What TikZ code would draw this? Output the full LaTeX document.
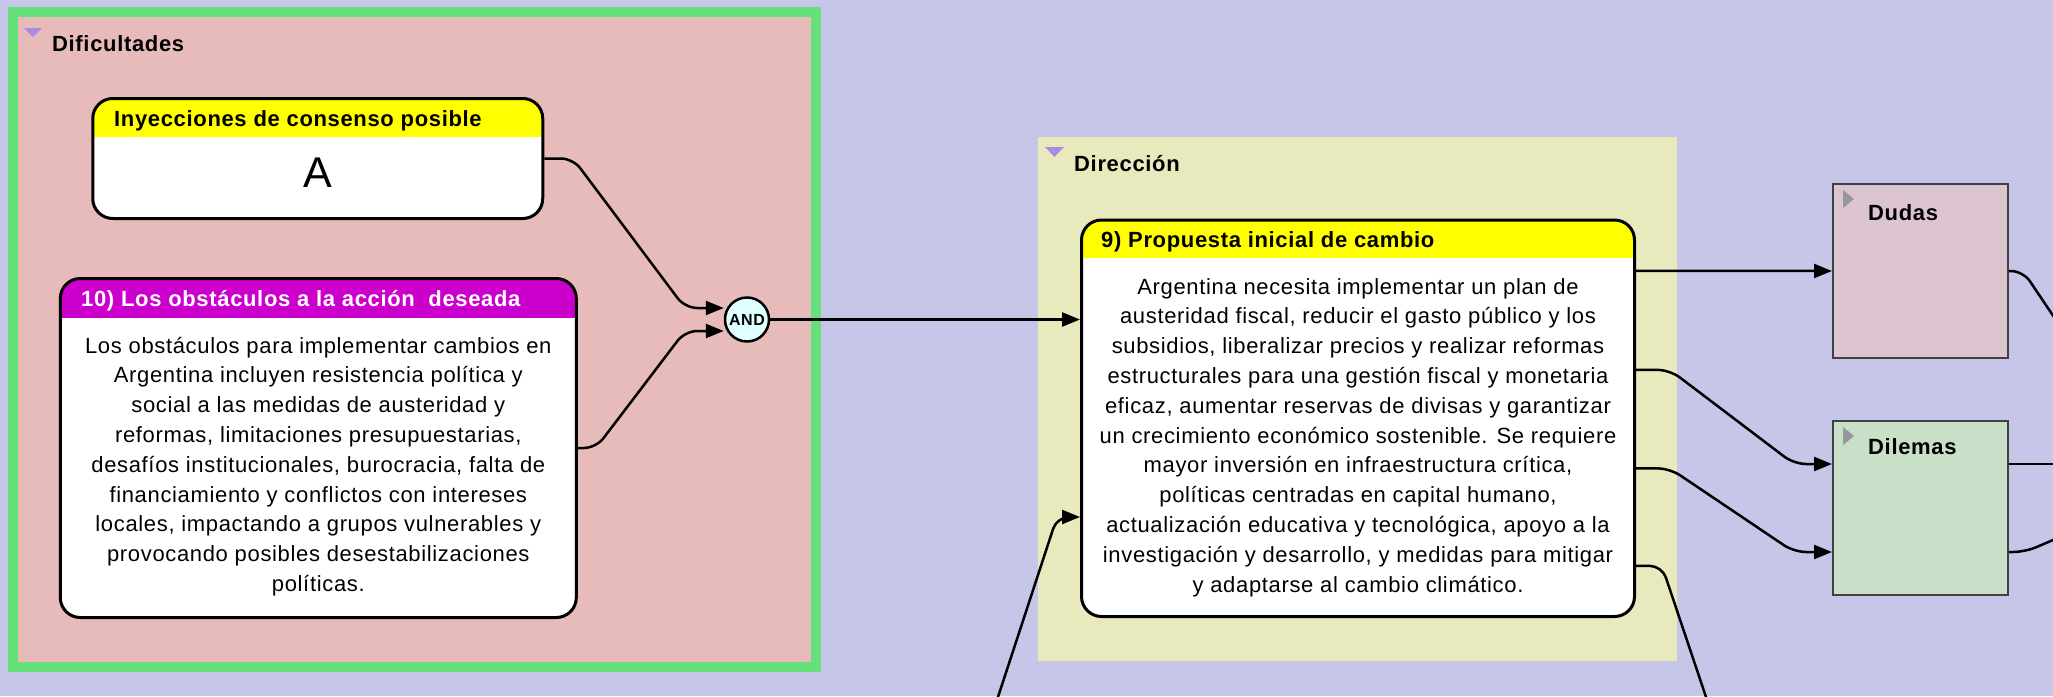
\documentclass[tikz,border=0pt]{standalone}
\usepackage{fontspec}
\setmainfont{Liberation Sans}[LetterSpace=3]
\usetikzlibrary{arrows.meta}
\definecolor{bg}{RGB}{198,198,232}
\definecolor{grnb}{RGB}{102,224,122}
\definecolor{pinkf}{RGB}{232,187,187}
\definecolor{dirf}{RGB}{233,233,190}
\definecolor{hdry}{RGB}{255,255,0}
\definecolor{hdrm}{RGB}{204,0,204}
\definecolor{dudf}{RGB}{220,196,208}
\definecolor{dilf}{RGB}{200,224,200}
\definecolor{trip}{RGB}{170,140,220}
\definecolor{trig}{RGB}{150,150,160}
\definecolor{andf}{RGB}{224,255,255}
\definecolor{bordg}{RGB}{64,64,64}
\newcommand{\hdrfont}{\fontsize{22}{26}\selectfont\bfseries}
\newcommand{\bodyfont}{\fontsize{22}{29.8}\selectfont}
\newcommand{\grpfont}{\fontsize{22}{26}\selectfont\bfseries}
\begin{document}
\begin{tikzpicture}[x=1pt,y=-1pt,
  card/.style={draw=black, line width=3pt, rounded corners=20pt, fill=white, inner sep=0pt},
  hdr/.style 2 args={path picture={\fill[#1, sharp corners] ([yshift=2pt]path picture bounding box.north west) rectangle ([yshift=-#2]path picture bounding box.north east);}},
  grp/.style={inner sep=0pt},
  sub/.style={draw=bordg, line width=2pt, inner sep=0pt, minimum width=175pt, minimum height=174pt},
  conn/.style={line width=2.5pt, draw=black, rounded corners=12pt},
  arr/.style={conn, -{Triangle[length=18pt,width=14pt]}},
  htext/.style={anchor=base west, font=\hdrfont, inner sep=0pt},
  btext/.style={anchor=base, align=center, font=\bodyfont, inner sep=0pt},
  glabel/.style={anchor=base west, font=\grpfont, inner sep=0pt}]
\useasboundingbox (0,0) rectangle (2053,696);
\fill[bg] (0,0) rectangle (2053,696);

% groups
\node[grp, draw=grnb, line width=10pt, fill=pinkf, minimum width=803pt, minimum height=655pt] (dif) at (414.5,339.5) {};
\node[grp, fill=dirf, minimum width=639pt, minimum height=524pt] (dir) at (1357.5,399) {};
\fill[trip] (24,28) -- (42,28) -- (33,37) -- cycle;
\fill[trip] (1045,147) -- (1064,147) -- (1054.5,157) -- cycle;
\node[glabel] (difl) at (52,51.5) {Dificultades};
\node[glabel] (dirl) at (1074,171.5) {Dirección};

% cards
\node[card, hdr={hdry}{38.5pt}, minimum width=450pt, minimum height=120pt] (inv) at (317.75,158.5) {};
\node[htext] (invh) at (114,126) {Inyecciones de consenso posible};
\node[inner sep=0pt, font=\fontsize{43}{43}\selectfont] (inva) at (317.5,172.5) {A};

\node[card, hdr={hdrm}{39.5pt}, minimum width=516pt, minimum height=339pt] (obs) at (318.3,448) {};
\node[htext, text=white] (obsh) at (81,306) {10) Los obstáculos a la acción\ \ deseada};
\node[btext] (obsb) at (318.3,591.5) {Los obstáculos para implementar cambios en\\
Argentina incluyen resistencia política y\\
social a las medidas de austeridad y\\
reformas, limitaciones presupuestarias,\\
desafíos institucionales, burocracia, falta de\\
financiamiento y conflictos con intereses\\
locales, impactando a grupos vulnerables y\\
provocando posibles desestabilizaciones\\
políticas.};

\node[card, hdr={hdry}{38pt}, minimum width=553pt, minimum height=396.5pt] (prop) at (1358,418.25) {};
\node[htext] (proph) at (1101,247) {9) Propuesta inicial de cambio};
\node[btext] (propb) at (1358,592) {Argentina necesita implementar un plan de\\
austeridad fiscal, reducir el gasto público y los\\
subsidios, liberalizar precios y realizar reformas\\
estructurales para una gestión fiscal y monetaria\\
eficaz, aumentar reservas de divisas y garantizar\\
un crecimiento económico sostenible. Se requiere\\
mayor inversión en infraestructura crítica,\\
políticas centradas en capital humano,\\
actualización educativa y tecnológica, apoyo a la\\
investigación y desarrollo, y medidas para mitigar\\
y adaptarse al cambio climático.};

% AND
\node[circle, draw=black, line width=2.5pt, fill=andf, minimum size=44pt, inner sep=0pt, font=\fontsize{16}{16}\selectfont\bfseries] (and) at (747,319.5) {AND};

% sub groups
\node[sub, fill=dudf] (dud) at (1920.5,271) {};
\node[sub, fill=dilf] (dil) at (1920.5,508) {};
\fill[trig] (1843,190) -- (1843,208) -- (1854,199) -- cycle;
\fill[trig] (1843,427) -- (1843,445) -- (1854,436) -- cycle;
\node[glabel] (dudl) at (1868,220) {Dudas};
\node[glabel] (dill) at (1868,454) {Dilemas};

% free ends
\coordinate (inB) at (997,700);
\coordinate (outB) at (1707,700);
\coordinate (outR1) at (2060,326);
\coordinate (outR2) at (2060,464);
\coordinate (outR3) at (2060,537);

% connectors
\draw[arr] (inv.east) -- (573,158.5) -- (685,308) -- ([yshift=11.5pt]and.west);
\draw[arr] (obs.east) -- (596,448) -- (685,331) -- ([yshift=-11.5pt]and.west);
\draw[arr] (and.east) -- ([yshift=98.75pt]prop.west);
\draw[arr] (inB) -- (1057,517) -- ([yshift=-98.75pt]prop.west);
\draw[arr] ([yshift=147.5pt]prop.east) -- (dud.west);
\draw[arr] ([yshift=48.5pt]prop.east) -- (1670,370) -- (1794,464) -- ([yshift=44pt]dil.west);
\draw[arr] ([yshift=-50pt]prop.east) -- (1670,468.5) -- (1794,552) -- ([yshift=-44pt]dil.west);
\draw[conn] ([yshift=-147.5pt]prop.east) -- (1662,566) -- (outB);
\draw[conn] (dud.east) -- (2023,271) -- (outR1);
\draw[conn] ([yshift=44pt]dil.east) -- (outR2);
\draw[conn] ([yshift=-44pt]dil.east) -- (2025,552) -- (outR3);
\end{tikzpicture}
\end{document}
